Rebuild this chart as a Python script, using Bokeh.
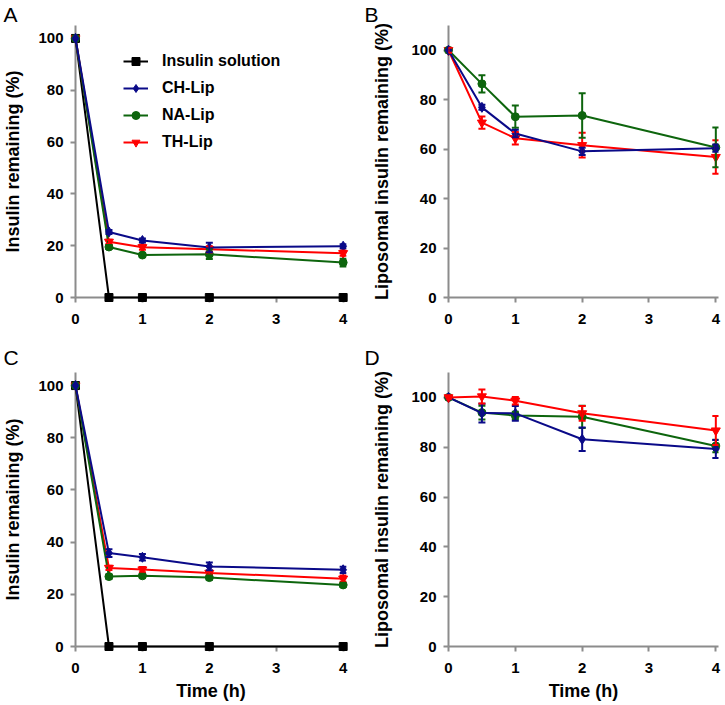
from bokeh.plotting import figure
from bokeh.models import (Range1d, Legend, LegendItem, Whisker, ColumnDataSource,
                          TeeHead, FixedTicker)
from bokeh.layouts import column, row
from bokeh.embed import file_html
from bokeh.resources import INLINE

# ---------------- data ----------------
time_h = [0, 0.5, 1, 2, 4]
x_ticks = [0, 1, 2, 3, 4]
y_ticks = [0, 20, 40, 60, 80, 100]
series_names = ["Insulin solution", "CH-Lip", "NA-Lip", "TH-Lip"]

# Panel A: insulin remaining (%)
a_insulin = [100, 0, 0, 0, 0]
a_ch = [100, 25.3, 22.0, 19.3, 19.8]
a_ch_err = [0, 0.8, 0.8, 1.8, 0.8]
a_na = [100, 19.5, 16.4, 16.7, 13.5]
a_na_err = [0, 0.8, 0.8, 1.8, 1.5]
a_th = [100, 21.5, 19.4, 18.6, 17.1]
a_th_err = [0, 0.8, 1.0, 1.2, 1.0]

# Panel B: liposomal insulin remaining (%)
b_ch = [100, 76.9, 66.3, 59.1, 60.4]
b_ch_err = [0, 1.0, 1.5, 1.5, 1.5]
b_na = [100, 86.4, 73.1, 73.6, 60.7]
b_na_err = [0, 3.5, 4.5, 9.0, 8.0]
b_th = [100, 70.7, 64.4, 61.6, 56.8]
b_th_err = [1.0, 2.5, 2.5, 5.0, 6.8]

# Panel C: insulin remaining (%)
c_insulin = [100, 0, 0, 0, 0]
c_ch = [100, 35.8, 34.2, 30.7, 29.4]
c_ch_err = [0, 1.5, 1.2, 1.5, 1.2]
c_na = [100, 26.8, 27.1, 26.4, 23.6]
c_na_err = [0, 0.8, 0.8, 0.8, 0.8]
c_th = [100, 30.1, 29.5, 28.2, 26.0]
c_th_err = [0, 0.8, 1.0, 0.8, 1.2]

# Panel D: liposomal insulin remaining (%)
d_ch = [100, 93.7, 93.6, 83.2, 79.3]
d_ch_err = [0, 3.8, 3.0, 4.7, 3.6]
d_na = [100, 93.9, 92.7, 92.2, 80.5]
d_na_err = [0, 2.8, 1.5, 4.5, 2.5]
d_th = [100, 100.4, 98.7, 93.6, 86.7]
d_th_err = [0.5, 2.8, 1.5, 3.0, 5.8]

# ---------------- styling ----------------
FONT = "Liberation Sans"
COL = {"Insulin solution": "#000000", "CH-Lip": "#0a0a88",
       "NA-Lip": "#0d650d", "TH-Lip": "#ff0000"}
MARK = {"Insulin solution": ("square", 8), "CH-Lip": ("diamond", 10),
        "NA-Lip": ("circle", 8), "TH-Lip": ("inverted_triangle", 9)}
AXC = "#8c8c8c"


def make_panel(letter, ymax, xmax, series, ylabel, xlabel, w, h, mbl, mbr, mbt, mbb,
               title_standoff, ylab_standoff, legend=False):
    p = figure(width=w, height=h, x_range=Range1d(0, xmax), y_range=Range1d(0, ymax),
               output_backend="svg", toolbar_location=None,
               min_border_left=mbl, min_border_right=mbr,
               min_border_top=mbt, min_border_bottom=mbb)
    p.outline_line_color = None
    p.grid.visible = False
    p.background_fill_color = None
    p.border_fill_color = None
    p.xaxis.ticker = FixedTicker(ticks=x_ticks)
    p.yaxis.ticker = FixedTicker(ticks=y_ticks)
    for ax in (p.xaxis[0], p.yaxis[0]):
        ax.axis_line_color = AXC
        ax.axis_line_width = 2
        ax.major_tick_line_color = AXC
        ax.major_tick_line_width = 2
        ax.major_tick_out = 5
        ax.major_tick_in = 0
        ax.minor_tick_line_color = None
        ax.major_label_text_font = FONT
        ax.major_label_text_font_style = "bold"
        ax.major_label_text_font_size = "15px"
        ax.major_label_text_color = "#000000"
        ax.axis_label_text_font = FONT
        ax.axis_label_text_font_style = "bold"
        ax.axis_label_text_font_size = "18px"
        ax.axis_label_text_color = "#000000"
    p.yaxis.major_label_standoff = 7
    p.xaxis.major_label_standoff = 11
    p.yaxis.axis_label = ylabel
    p.yaxis.axis_label_standoff = ylab_standoff
    if xlabel:
        p.xaxis.axis_label = xlabel
        p.xaxis.axis_label_standoff = 5

    # panel letter as title
    p.title.text = letter
    p.title.align = "left"
    p.title.offset = -mbl + 2
    p.title.standoff = title_standoff
    p.title.text_font = FONT
    p.title.text_font_size = "21px"
    p.title.text_font_style = "normal"
    p.title.text_color = "#000000"

    items = {}
    for name, vals, errs in series:
        c = COL[name]
        if errs is not None:
            xs = [t for t, e in zip(time_h, errs) if e > 0]
            lo = [v - e for v, e in zip(vals, errs) if e > 0]
            hi = [v + e for v, e in zip(vals, errs) if e > 0]
            src = ColumnDataSource(dict(x=xs, lower=lo, upper=hi))
            wk = Whisker(base="x", lower="lower", upper="upper", source=src,
                         line_color=c, line_width=2, level="overlay",
                         upper_head=TeeHead(size=7, line_color=c, line_width=2),
                         lower_head=TeeHead(size=7, line_color=c, line_width=2))
            p.add_layout(wk)
        lr = p.line(time_h, vals, line_color=c, line_width=2, level="overlay")
        mk, sz = MARK[name]
        sr = p.scatter(time_h, vals, marker=mk, size=sz, fill_color=c, line_color=c,
                       level="overlay")
        items[name] = [lr, sr]

    if legend:
        lg = Legend(items=[LegendItem(label=n, renderers=items[n]) for n in series_names],
                    location=(48, 145), orientation="vertical")
        lg.label_text_font = FONT
        lg.label_text_font_style = "bold"
        lg.label_text_font_size = "16px"
        lg.label_text_color = "#000000"
        lg.glyph_width = 25
        lg.glyph_height = 20
        lg.label_height = 20
        lg.label_standoff = 14
        lg.spacing = 7
        lg.padding = 0
        lg.margin = 0
        lg.border_line_color = None
        lg.background_fill_alpha = 0
        p.add_layout(lg, "center")
    return p


pA = make_panel("A", 105, 4.05,
                [("Insulin solution", a_insulin, None), ("TH-Lip", a_th, a_th_err),
                 ("NA-Lip", a_na, a_na_err), ("CH-Lip", a_ch, a_ch_err)],
                "Insulin remaining (%)", None, 362, 340, 74, 16, 22, 43, 0, 12,
                legend=True)
pB = make_panel("B", 110, 4.04,
                [("TH-Lip", b_th, b_th_err), ("NA-Lip", b_na, b_na_err),
                 ("CH-Lip", b_ch, b_ch_err)],
                "Liposomal insulin remaining (%)", None, 362, 340, 86, 6, 22, 43, 0, 16)
pC = make_panel("C", 105, 4.05,
                [("Insulin solution", c_insulin, None), ("TH-Lip", c_th, c_th_err),
                 ("NA-Lip", c_na, c_na_err), ("CH-Lip", c_ch, c_ch_err)],
                "Insulin remaining (%)", "Time (h)", 362, 364, 74, 16, 30, 58, 7, 12)
pD = make_panel("D", 110, 4.04,
                [("NA-Lip", d_na, d_na_err), ("CH-Lip", d_ch, d_ch_err),
                 ("TH-Lip", d_th, d_th_err)],
                "Liposomal insulin remaining (%)", "Time (h)", 362, 364, 86, 6, 30, 58, 7,
                16)

layout = column(row(pA, pB), row(pC, pD))
open("out.html", "w").write(file_html(layout, INLINE))
